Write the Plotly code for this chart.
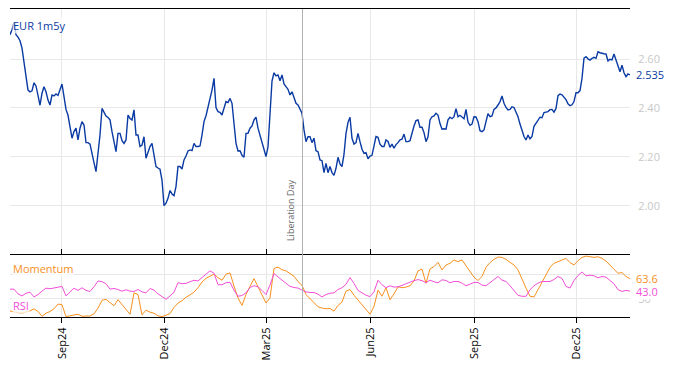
import pandas as pd
import plotly.graph_objects as go

# ---------------- data ----------------
start_date = "2024-07-17"
end_date = "2026-01-17"

eur_1m5y = [
    2.70, 2.72, 2.75, 2.70, 2.69,
    2.675, 2.645, 2.588, 2.536, 2.473, 2.466, 2.470, 2.503, 2.490, 2.451,
    2.411, 2.460, 2.487, 2.466, 2.432, 2.412, 2.453, 2.449, 2.457, 2.451,
    2.476, 2.498, 2.446, 2.394, 2.370, 2.330, 2.276, 2.303, 2.317, 2.269,
    2.317, 2.344, 2.330, 2.258, 2.258, 2.252, 2.207, 2.176, 2.139, 2.214,
    2.289, 2.398, 2.383, 2.367, 2.361, 2.351, 2.303, 2.255, 2.221, 2.296,
    2.296, 2.266, 2.255, 2.269, 2.371,
    2.357, 2.351, 2.392, 2.289, 2.289, 2.242, 2.248, 2.282, 2.194, 2.217,
    2.242, 2.255, 2.207, 2.160, 2.154, 2.149, 2.105, 2.000, 2.010, 2.030,
    2.062, 2.048, 2.041, 2.078, 2.160, 2.160, 2.150, 2.187, 2.203, 2.224,
    2.228, 2.225, 2.255, 2.242, 2.242, 2.244, 2.289, 2.344, 2.368, 2.402,
    2.446, 2.473, 2.521, 2.402, 2.385, 2.382, 2.371, 2.398, 2.426, 2.422,
    2.439, 2.419, 2.344, 2.255, 2.224, 2.225, 2.206, 2.198, 2.296, 2.296,
    2.317, 2.326, 2.351,
    2.362, 2.317, 2.285, 2.258, 2.231, 2.201, 2.240, 2.364, 2.510, 2.544,
    2.531, 2.535, 2.511, 2.535, 2.498, 2.487, 2.476, 2.453, 2.466, 2.443,
    2.419, 2.412, 2.397, 2.378, 2.310, 2.262, 2.282, 2.282, 2.258, 2.276,
    2.225, 2.221, 2.187, 2.184, 2.135, 2.173, 2.135, 2.160, 2.135, 2.124,
    2.153, 2.198, 2.171, 2.160, 2.210, 2.296, 2.341, 2.362, 2.276, 2.252,
    2.258, 2.296, 2.262, 2.231, 2.214, 2.217, 2.192, 2.203, 2.206,
    2.250,
    2.283, 2.280, 2.252, 2.242, 2.242, 2.269, 2.263, 2.239, 2.252, 2.235,
    2.250, 2.258, 2.269, 2.272, 2.293, 2.262, 2.262, 2.266, 2.303, 2.326,
    2.348, 2.351, 2.321, 2.321, 2.299, 2.262, 2.282, 2.351, 2.364, 2.367,
    2.378, 2.371, 2.336, 2.313, 2.315, 2.313, 2.351, 2.362, 2.356, 2.364,
    2.397, 2.364, 2.370, 2.364, 2.356, 2.394, 2.342, 2.329, 2.334, 2.364,
    2.363, 2.344, 2.307, 2.303, 2.310, 2.344, 2.377, 2.364, 2.367, 2.394,
    2.400, 2.412,
    2.426, 2.449, 2.419, 2.402, 2.392, 2.394, 2.405, 2.402, 2.383, 2.364,
    2.334, 2.310, 2.283, 2.269, 2.289, 2.274, 2.283, 2.325, 2.337, 2.348,
    2.362, 2.360, 2.381, 2.383, 2.385, 2.393, 2.394, 2.383, 2.398, 2.450,
    2.457, 2.454, 2.446, 2.434, 2.417, 2.409, 2.413, 2.426, 2.462, 2.462,
    2.471, 2.521, 2.604, 2.610, 2.601, 2.596, 2.603, 2.607, 2.603, 2.630,
    2.626, 2.623, 2.622, 2.621, 2.592, 2.599, 2.597, 2.621, 2.596, 2.571,
    2.548, 2.575, 2.544, 2.528, 2.539,
    2.535,
]

momentum = [
    10, 8, 7, 6.3, 8, 10.2, 13.6, 9.1, 1.2, 6.3,
    9.1, 13.6, 21.5, 20.4, 0.7, 1.8, 2.4, 4.6, 1.2, 1.8,
    1.8, 5.2, 14.8, 27.7, 29.4, 23.8, 18.7, 28.8, 20.4, 12,
    4.6, 40.1, 37.3, 3.5, 11.4, 8, 6.3, 1.8, 0.7, 2.9,
    5.7, 15.9, 23.2, 27.2, 32.8, 36.7, 41.2, 48.6, 58.1, 64.3,
    67.7, 71.1,
    65.5, 61, 71.1, 73.3, 51.4, 31.7, 19.3, 37.3, 50.8, 63.8,
    50.2, 36.2, 23.2, 31.7, 80.7, 82.9, 78.4, 76.7, 72.8, 67.7,
    58.7, 52.5, 37.3, 30.5, 23.2, 17, 14.8, 13.6, 14.2, 9.7,
    19.3, 24.9, 42.9, 45.7, 36.2, 28.3, 21.5, 12, 4.6, 17.6,
    44.6, 34.5, 48.6, 28.8, 38.4, 50.2, 48.6, 49.7, 51.9, 59.8,
    76.7, 79.5, 56,
    79.9, 83.7, 90.8, 78.2, 86.4, 89.2, 94.7, 92, 94.7, 84.8,
    75.5, 66.2, 60.7, 67.3, 82.6, 90.3, 95.8, 99.6, 99, 95.8,
    90.8, 86.4, 78.2, 61.8, 48.1, 34.4, 33.3, 45.3, 59, 70,
    82.6, 89.2, 91.9, 94.7, 97.4, 90.3, 86.4, 93.6, 99, 101.2,
    100.1, 99, 100.1, 97.4, 93, 85.3, 79.3, 72.7, 73.8, 67.3,
    63.6,
]

rsi = [
    46.3, 46.3, 38.4, 35, 39.5, 41.2, 33.3, 37.3, 42.9, 48,
    46.9, 48, 49.7, 50.8, 35, 41.8, 48, 44.1, 48.6, 44.1,
    42.4, 50.3, 59.8, 58.7, 55.3, 46.3, 47.4, 45.7, 42.9, 45.2,
    42.9, 42.4, 45.7, 41.8, 40.1, 47.4, 44.6, 38.4, 33.9, 29.4,
    35, 41.2, 57, 55.3, 55.9, 58.7, 61, 59.8, 66, 71.1,
    76.7, 72.8,
    53.6, 53.6, 57, 57.6, 44.6, 34.5, 35.6, 40.1, 49.1, 51.9,
    50.2, 44.1, 37.3, 53.1, 72.2, 66.6, 61, 55.3, 50.8, 49.1,
    48, 44.6, 41.8, 40.7, 40.7, 37.9, 33.3, 37.3, 39.5, 40.1,
    45.7, 48.6, 54.2, 65.5, 55.9, 44.1, 39.5, 36.2, 33.9, 41.8,
    61, 53.6, 48.6, 51.9, 49.7, 50.2, 52.5, 55.3, 57.6, 60.4,
    62.1, 60.4, 57,
    61.2, 58.5, 56.8, 61.8, 60.7, 56.8, 59, 59, 56.3, 51.9,
    54.1, 57.4, 57.4, 53, 51.9, 57.4, 62.9, 67.3, 61.2, 59,
    51.9, 43.7, 36, 34.4, 34.4, 45.3, 51.9, 56.3, 59, 59,
    59, 62.3, 67.3, 64, 50.8, 48.1, 60.7, 68.9, 74.9, 68.4,
    69.5, 68.4, 65.1, 67.3, 66.2, 60.7, 55.2, 45.3, 42.6, 44.2,
    43.0,
]

price_ticks = [2.00, 2.20, 2.40, 2.60]
ind_ticks = [30, 70]
event_date = "2025-04-02"
event_label = "Liberation Day"
series_name = "EUR 1m5y"

# ---------------- styling ----------------
BLUE = "#0a3aa3"
ORANGE = "#f7901e"
PINK = "#f24fd8"
GRID = "#e8e8e8"
TICKGRAY = "#c8c8c8"

dates_main = pd.date_range(start_date, end_date, periods=len(eur_1m5y))
dates_ind = pd.date_range(start_date, end_date, periods=len(momentum))

split = 0.2013

fig = go.Figure()
fig.add_trace(go.Scatter(x=dates_main, y=eur_1m5y, mode="lines",
                         line=dict(color=BLUE, width=1.4),
                         xaxis="x", yaxis="y", showlegend=False))
fig.add_trace(go.Scatter(x=dates_ind, y=momentum, mode="lines",
                         line=dict(color=ORANGE, width=1),
                         xaxis="x2", yaxis="y2", showlegend=False))
fig.add_trace(go.Scatter(x=dates_ind, y=rsi, mode="lines",
                         line=dict(color=PINK, width=1),
                         xaxis="x2", yaxis="y2", showlegend=False))

xrange = [dates_main[0], dates_main[-1]]
common_x = dict(range=xrange, type="date", tick0="2024-09-01", dtick="M3",
                showgrid=True, gridcolor=GRID, gridwidth=1, zeroline=False)

# page body adds an 8px offset; size the figure so the plot lands in place
fig.update_layout(
    width=666, height=358,
    margin=dict(l=2, r=44, t=1, b=49),
    paper_bgcolor="white", plot_bgcolor="white",
    font=dict(family="Open Sans, Arial, sans-serif"),
    xaxis=dict(common_x, domain=[0, 1], anchor="y", matches="x2", side="top",
               showticklabels=False, ticks="",
               showline=True, linecolor="black", linewidth=1, mirror=False),
    yaxis=dict(domain=[split, 1], anchor="x", side="right",
               range=[1.798, 2.805], tickvals=price_ticks,
               ticktext=[f"{v:.2f}" for v in price_ticks],
               tickfont=dict(color=TICKGRAY, size=11),
               ticks="outside", ticklen=5, tickcolor="rgba(0,0,0,0)",
               showgrid=True, gridcolor=GRID, zeroline=False, showline=False),
    xaxis2=dict(common_x, domain=[0, 1], anchor="y2",
                tickformat="%b%y", tickangle=-90,
                tickfont=dict(color="black", size=11),
                ticks="outside", ticklen=5, tickcolor="black",
                showline=True, linecolor="black", linewidth=1, mirror="ticks"),
    yaxis2=dict(domain=[0, split], anchor="x2", side="right",
                range=[0, 103], tickvals=ind_ticks,
                tickfont=dict(color=TICKGRAY, size=11),
                ticks="outside", ticklen=5, tickcolor="rgba(0,0,0,0)",
                showgrid=True, gridcolor=GRID, zeroline=False, showline=False),
)

# event line
fig.add_shape(type="line", xref="x", yref="paper",
              x0=event_date, x1=event_date, y0=0, y1=1,
              line=dict(color="#b0b0b0", width=1))
fig.add_annotation(x=event_date, xref="x", y=0.24, yref="paper",
                   text=event_label, textangle=-90, showarrow=False,
                   xanchor="center", yanchor="bottom", xshift=-12,
                   font=dict(size=9, color="#666666"))

# labels
fig.add_annotation(x=0.004, xref="paper", y=0.948, yref="paper",
                   text=series_name, showarrow=False, xanchor="left",
                   yanchor="middle", font=dict(size=11, color=BLUE),
                   bgcolor="rgba(255,255,255,0.7)", borderpad=0)
fig.add_annotation(x=0.004, xref="paper", y=0.159, yref="paper",
                   text="Momentum", showarrow=False, xanchor="left",
                   yanchor="middle", font=dict(size=11, color=ORANGE),
                   bgcolor="rgba(255,255,255,0.7)", borderpad=0)
fig.add_annotation(x=0.004, xref="paper", y=0.036, yref="paper",
                   text="RSI", showarrow=False, xanchor="left",
                   yanchor="middle", font=dict(size=11, color=PINK),
                   bgcolor="rgba(255,255,255,0.7)", borderpad=0)

# last-value labels
fig.add_annotation(x=1.0, xref="paper", xshift=5, y=eur_1m5y[-1], yref="y",
                   text=f"{eur_1m5y[-1]:.3f}", showarrow=False, xanchor="left",
                   yanchor="middle", font=dict(size=11, color=BLUE),
                   bgcolor="white", borderpad=0)
fig.add_annotation(x=1.0, xref="paper", xshift=5, y=momentum[-1], yref="y2",
                   text=f"{momentum[-1]:.1f}", showarrow=False, xanchor="left",
                   yanchor="middle", font=dict(size=11, color=ORANGE),
                   bgcolor="white", borderpad=0)
fig.add_annotation(x=1.0, xref="paper", xshift=5, y=rsi[-1], yref="y2",
                   text=f"{rsi[-1]:.1f}", showarrow=False, xanchor="left",
                   yanchor="middle", font=dict(size=11, color=PINK),
                   bgcolor="white", borderpad=0)

fig.write_html("out.html")
